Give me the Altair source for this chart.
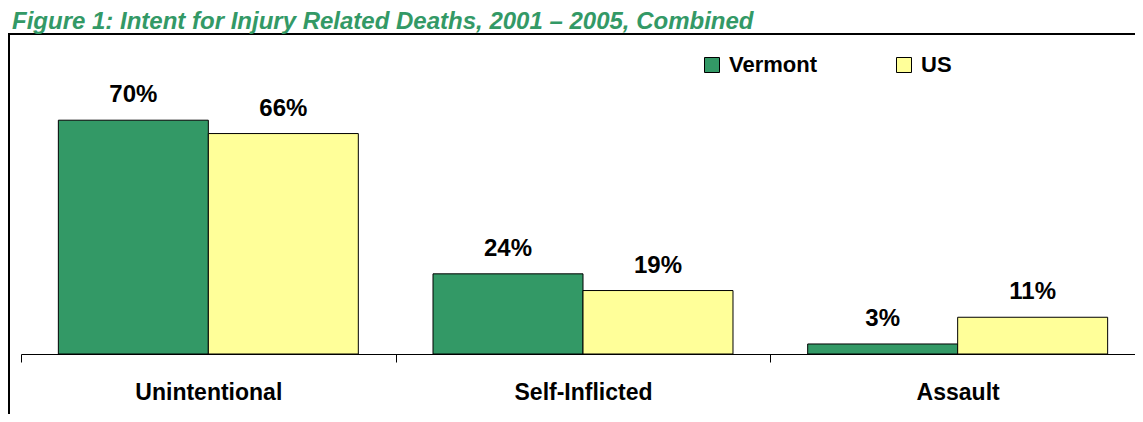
import altair as alt
import pandas as pd

categories = ["Unintentional", "Self-Inflicted", "Assault"]
series = ["Vermont", "US"]
vermont = [70, 24, 3]
us = [66, 19, 11]
colors = ["#339966", "#FFFF99"]
title_text = "Figure 1: Intent for Injury Related Deaths, 2001 \u2013 2005, Combined"

rows = []
for i, c in enumerate(categories):
    rows.append({"category": c, "series": "Vermont", "value": vermont[i]})
    rows.append({"category": c, "series": "US", "value": us[i]})
df = pd.DataFrame(rows)
df["label"] = df["value"].astype(str) + "%"

W, H = 1124, 334
FONT = "Liberation Sans"

x = alt.X(
    "category:N", sort=categories,
    scale=alt.Scale(paddingInner=0, paddingOuter=0),
    axis=alt.Axis(title=None, labelAngle=0, tickBand="extent", tickSize=8,
                  tickColor="black", domainColor="black", domainWidth=1, tickWidth=1,
                  labelFont=FONT, labelFontSize=23, labelFontWeight="bold",
                  labelColor="black", labelBaseline="alphabetic", labelPadding=37,
                  grid=False),
)
xoff = alt.XOffset("series:N", sort=series,
                   scale=alt.Scale(paddingInner=0, paddingOuter=0.249))
y = alt.Y("value:Q", scale=alt.Scale(domain=[0, 100]), axis=None)
color = alt.Color(
    "series:N", sort=series,
    scale=alt.Scale(domain=series, range=colors),
    legend=alt.Legend(title=None, orient="none", legendX=680, legendY=34,
                      direction="horizontal", symbolType="square", symbolSize=225,
                      symbolStrokeColor="black", symbolStrokeWidth=1,
                      labelFont=FONT, labelFontSize=22, labelFontWeight="bold",
                      labelColor="black", columnPadding=75, labelOffset=6,
                      padding=0),
)

bars = alt.Chart(df).mark_bar(stroke="black", strokeWidth=1).encode(
    x=x, xOffset=xoff, y=y, color=color
)
labels = alt.Chart(df).mark_text(
    dy=-18, baseline="alphabetic", font=FONT, fontSize=24, fontWeight="bold", color="black"
).encode(x=x, xOffset=xoff, y=y, text="label:N")

one = pd.DataFrame({"title": [title_text]})
frame = alt.Chart(one).mark_rect(
    filled=False, stroke="black", strokeWidth=2
).encode(x=alt.value(-12), x2=alt.value(W + 60), y=alt.value(14), y2=alt.value(H + 200))

title = alt.Chart(one).mark_text(
    align="left", baseline="alphabetic", font=FONT, fontSize=24, fontStyle="italic",
    fontWeight="bold", color="#339966"
).encode(x=alt.value(-9), y=alt.value(9), text="title:N")

chart = alt.layer(frame, bars, labels, title).properties(
    width=W, height=H,
    autosize=alt.AutoSizeParams(type="none"),
    padding={"left": 13, "top": 12, "right": -10, "bottom": 60},
).configure_view(stroke=None)

chart.save("out.html", embed_options={"renderer": "svg", "actions": False})
